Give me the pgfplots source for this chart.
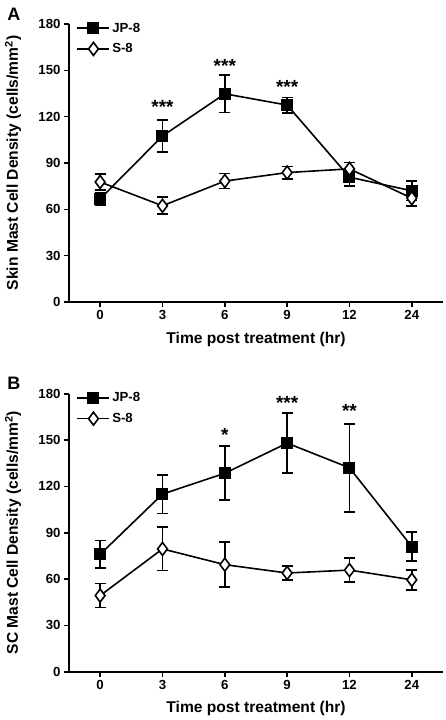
\documentclass[border=0pt]{standalone}
\usepackage{fontspec}
\setmainfont{Liberation Sans}
\usepackage{pgfplots}
\pgfplotsset{compat=1.18}

\pgfplotstableread{
x y e
0 66.8 4
1 107.5 10.5
2 134.8 12.2
3 127.5 5
4 80.8 5.5
5 72 6.3
}\JPa
\pgfplotstableread{
x y e
0 77.7 5.2
1 62.3 5.5
2 78.3 4.8
3 83.8 4
4 86.2 4.2
5 67.2 5
}\SEa
\pgfplotstableread{
x y e
0 76 9
1 115 12.5
2 128.5 17.5
3 148 19.5
4 132 28.5
5 81 9.5
}\JPb
\pgfplotstableread{
x y e
0 49.3 7.8
1 79.5 14
2 69.3 14.5
3 63.9 4.5
4 65.8 7.8
5 59.5 6.5
}\SEb

\newcommand{\fs}{\fontsize{13.2}{15}\selectfont\bfseries}
\newcommand{\fl}{\fontsize{15.6}{18}\selectfont\bfseries}
\newcommand{\fst}{\fontsize{19}{21}\selectfont\bfseries}

\pgfplotsset{
  myaxis/.style={
    scale only axis, width=374pt, height=278pt,
    xmin=-0.5, xmax=5.5, ymin=0, ymax=180,
    axis x line*=bottom, axis y line*=left,
    xtick={0,...,5}, xticklabels={0,3,6,9,12,24},
    ytick={0,30,...,180},
    tick align=outside, major tick length=5pt,
    tick style={line width=1.6pt, black},
    axis line style={line width=1.6pt},
    ticklabel style={font=\fs},
    /pgf/number format/assume math mode=true,
    every axis x label/.style={at={(axis description cs:0.5,0)}, anchor=center, yshift=-37pt, font=\fl},
    every axis y label/.style={at={(axis description cs:0,0.5)}, xshift=-56pt, rotate=90, anchor=center, font=\fl},
    xlabel={Time post treatment (hr)},
    clip=false,
    legend cell align=left,
    legend style={at={(rel axis cs:0.02,1.012)}, anchor=north west, draw=none, fill=none, font=\fs, row sep=6pt, inner sep=0pt},
    legend image code/.code={\draw[mark repeat=2,mark phase=2,#1] plot coordinates {(0pt,0pt) (16pt,0pt) (32pt,0pt)};},
  },
  jp/.style={black, line width=1.6pt, mark=square*, mark size=5.2pt, mark options={solid, fill=black},
    error bars/.cd, y dir=both, y explicit, error bar style={line width=1.6pt}, error mark options={rotate=90, mark size=5.5pt, line width=1.6pt}},
  se/.style={black, line width=1.6pt, mark=diamond*, mark size=6.5pt, mark options={solid, fill=white},
    error bars/.cd, y dir=both, y explicit, error bar style={line width=1.6pt}, error mark options={rotate=90, mark size=5.5pt, line width=1.6pt}},
}

\begin{document}
\begin{tikzpicture}
\path[use as bounding box] (-69pt,-418pt) rectangle (377pt,302pt);
\node[font=\fontsize{18}{20}\selectfont\bfseries] at (-55pt,288pt) {A};
\node[font=\fontsize{18}{20}\selectfont\bfseries] at (-55pt,-81pt) {B};
\begin{axis}[myaxis, at={(0pt,0pt)}, anchor=south west,
  ylabel={Skin Mast Cell Density (cells/mm\textsuperscript{2})}]
\addplot[jp] table[x=x,y=y,y error=e] {\JPa};
\addlegendentry{JP-8}
\addplot[se] table[x=x,y=y,y error=e] {\SEa};
\addlegendentry{S-8}
\node[font=\fst] at (axis cs:1,126.5) {***};
\node[font=\fst] at (axis cs:2,153) {***};
\node[font=\fst] at (axis cs:3,139.5) {***};
\end{axis}
\begin{axis}[myaxis, at={(0pt,-369.7pt)}, anchor=south west,
  ylabel={SC Mast Cell Density (cells/mm\textsuperscript{2})}]
\addplot[jp] table[x=x,y=y,y error=e] {\JPb};
\addlegendentry{JP-8}
\addplot[se] table[x=x,y=y,y error=e] {\SEb};
\addlegendentry{S-8}
\node[font=\fst] at (axis cs:2,153) {*};
\node[font=\fst] at (axis cs:3,174) {***};
\node[font=\fst] at (axis cs:4,169) {**};
\end{axis}
\end{tikzpicture}
\end{document}
